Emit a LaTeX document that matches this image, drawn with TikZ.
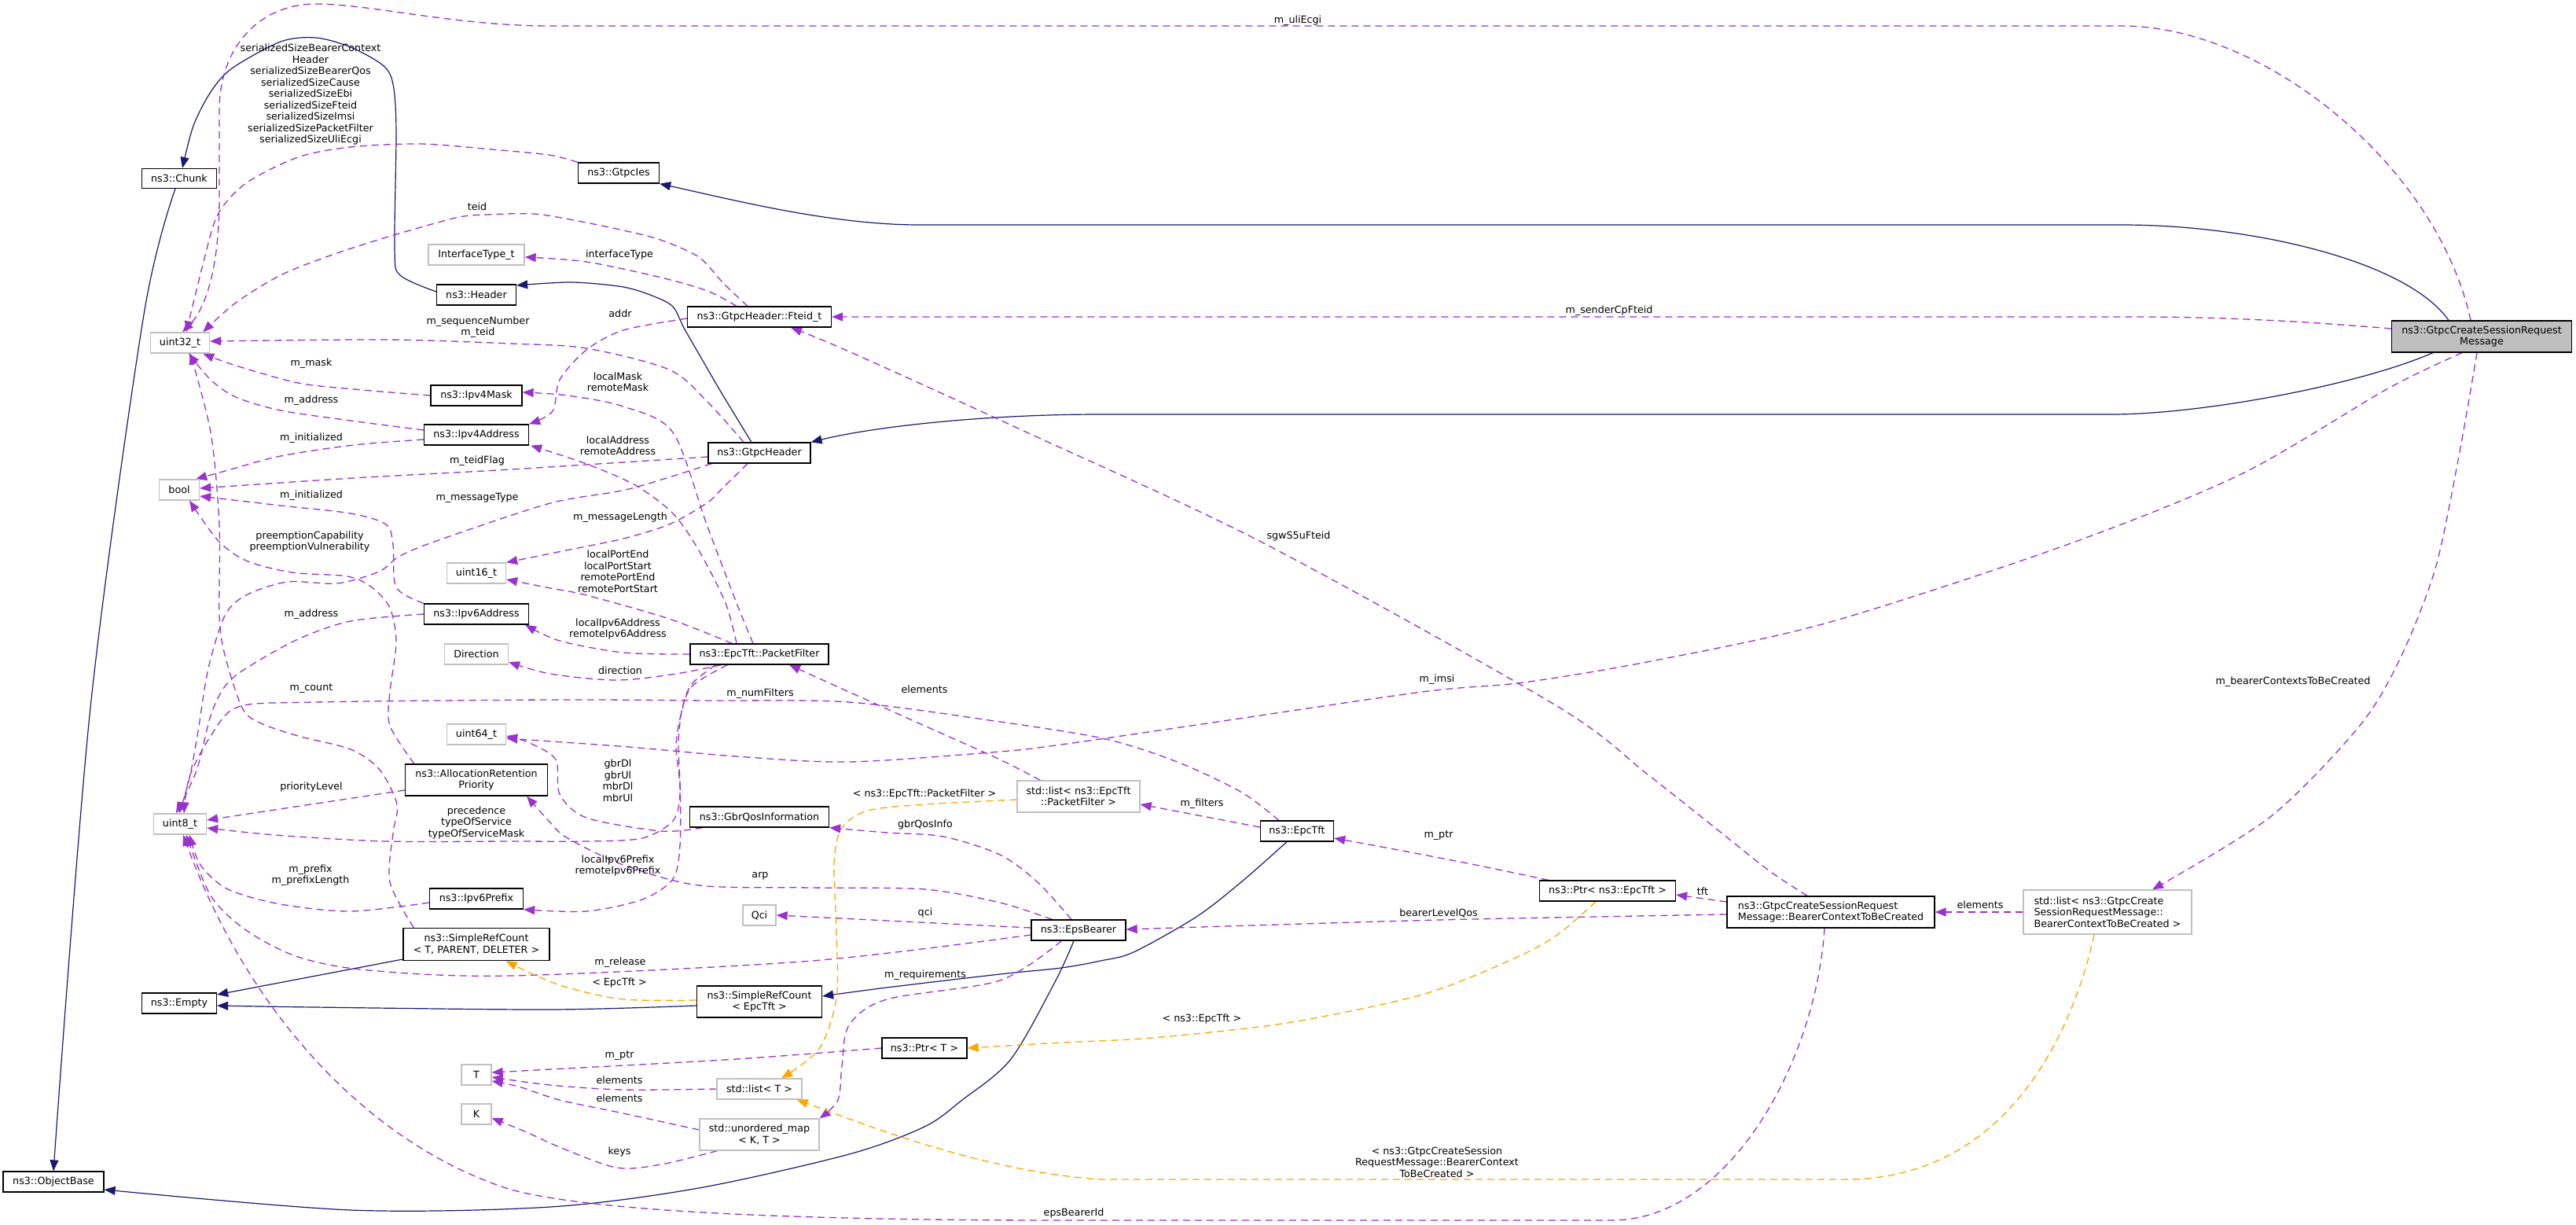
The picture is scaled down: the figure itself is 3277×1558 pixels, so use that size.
\documentclass[tikz,border=0pt]{standalone}
\usepackage{fontspec}
\setmainfont{DejaVu Sans}
\usetikzlibrary{arrows.meta}
\definecolor{inhc}{HTML}{191970}
\definecolor{usec}{HTML}{9A32CD}
\definecolor{tplc}{HTML}{FFA500}
\definecolor{extc}{HTML}{BFBFBF}
\definecolor{selc}{HTML}{BFBFBF}
\pgfdeclarelayer{bg}
\pgfdeclarelayer{edges}
\pgfsetlayers{bg,edges,main}
\begin{document}
\begin{tikzpicture}[x=1pt,y=-1pt,
  every node/.style={font=\fontsize{12.7}{14.5}\selectfont},
  cls/.style={draw=black, line width=1.3pt, fill=white, inner sep=0pt, align=center},
  ext/.style={draw=extc, line width=1.3pt, fill=white, inner sep=0pt, align=center},
  lb/.style={inner sep=0pt, align=center},
  inh/.style={draw=inhc, line width=1.2pt, line join=round, -{Triangle[length=14pt,width=11pt]}},
  use/.style={draw=usec, line width=1.3pt, line join=round, dash pattern=on 9pt off 6pt, -{Triangle[length=14pt,width=11pt]}},
  tpl/.style={draw=tplc, line width=1.3pt, line join=round, dash pattern=on 9pt off 6pt, -{Triangle[length=14pt,width=11pt]}},
]
\begin{pgfonlayer}{bg}
\fill[white] (0,0) rectangle (3277,1558);
\end{pgfonlayer}
\useasboundingbox (0,0) rectangle (3277,1558);

% ---------- nodes ----------
\node[cls, minimum width=95pt, minimum height=25pt] (chunk) at (228,227) {ns3::Chunk};
\node[ext, minimum width=75pt, minimum height=26pt] (u32) at (229,436) {uint32\_t};
\node[ext, minimum width=51pt, minimum height=26pt] (bool) at (228,623) {bool};
\node[ext, minimum width=67pt, minimum height=26pt] (u8) at (229,1048) {uint8\_t};
\node[cls, minimum width=95pt, minimum height=26pt] (empty) at (228,1276) {ns3::Empty};
\node[cls, minimum width=128pt, minimum height=26pt] (objbase) at (68,1503) {ns3::ObjectBase};
\node[ext, minimum width=122pt, minimum height=26pt] (ift) at (606,324) {InterfaceType\_t};
\node[cls, minimum width=101pt, minimum height=26pt] (header) at (606,375) {ns3::Header};
\node[cls, minimum width=116pt, minimum height=26pt] (ipv4mask) at (606,503) {ns3::Ipv4Mask};
\node[cls, minimum width=133pt, minimum height=26pt] (ipv4addr) at (606,553) {ns3::Ipv4Address};
\node[ext, minimum width=75pt, minimum height=26pt] (u16) at (606,729) {uint16\_t};
\node[cls, minimum width=133pt, minimum height=26pt] (ipv6addr) at (606,781) {ns3::Ipv6Address};
\node[ext, minimum width=81pt, minimum height=26pt] (direction) at (606,832) {Direction};
\node[ext, minimum width=75pt, minimum height=26pt] (u64) at (606,934) {uint64\_t};
\node[cls, minimum width=181pt, minimum height=40pt] (arp) at (606,992) {ns3::AllocationRetention\\Priority};
\node[cls, minimum width=119pt, minimum height=26pt] (ipv6prefix) at (606,1143) {ns3::Ipv6Prefix};
\node[cls, minimum width=186pt, minimum height=41pt] (srcT) at (606,1201) {ns3::SimpleRefCount\\< T, PARENT, DELETER >};
\node[ext, minimum width=38pt, minimum height=26pt] (T) at (606,1367) {T};
\node[ext, minimum width=38pt, minimum height=26pt] (K) at (606,1417) {K};
\node[cls, minimum width=103pt, minimum height=26pt] (gtpcies) at (787,220) {ns3::GtpcIes};
\node[cls, minimum width=183pt, minimum height=26pt] (fteid) at (966,403) {ns3::GtpcHeader::Fteid\_t};
\node[cls, minimum width=130pt, minimum height=26pt] (gtpch) at (966,576) {ns3::GtpcHeader};
\node[cls, minimum width=176pt, minimum height=26pt] (pf) at (966,832) {ns3::EpcTft::PacketFilter};
\node[cls, minimum width=177pt, minimum height=26pt] (gbr) at (966,1039) {ns3::GbrQosInformation};
\node[ext, minimum width=42pt, minimum height=26pt] (qci) at (966,1164) {Qci};
\node[cls, minimum width=159pt, minimum height=40pt] (srcE) at (966,1274) {ns3::SimpleRefCount\\< EpcTft >};
\node[ext, minimum width=108pt, minimum height=26pt] (lstT) at (966,1385) {std::list< T >};
\node[ext, minimum width=152pt, minimum height=40pt] (umap) at (966,1443) {std::unordered\_map\\< K, T >};
\node[cls, minimum width=108pt, minimum height=26pt] (ptrT) at (1176,1333) {ns3::Ptr< T >};
\node[ext, minimum width=156pt, minimum height=40pt] (lstPF) at (1372,1013) {std::list< ns3::EpcTft\\::PacketFilter >};
\node[cls, minimum width=120pt, minimum height=26pt] (eps) at (1372,1183) {ns3::EpsBearer};
\node[cls, minimum width=93pt, minimum height=26pt] (epctft) at (1650,1057) {ns3::EpcTft};
\node[cls, minimum width=173pt, minimum height=26pt] (ptrE) at (2045,1133) {ns3::Ptr< ns3::EpcTft >};
\node[cls, align=left, minimum width=264pt, minimum height=40pt] (bctbc) at (2329,1160) {ns3::GtpcCreateSessionRequest\\Message::BearerContextToBeCreated};
\node[ext, align=left, minimum width=214pt, minimum height=56pt] (lstB) at (2681,1160) {std::list< ns3::GtpcCreate\\SessionRequestMessage::\\BearerContextToBeCreated >};
\node[cls, fill=selc, minimum width=229pt, minimum height=40pt] (msg) at (3157,428) {ns3::GtpcCreateSessionRequest\\Message};

% ---------- labels ----------
\node[lb] (lUli) at (1651,26) {m\_uliEcgi};
\node[lb] (lSer) at (395,120) {serializedSizeBearerContext\\Header\\serializedSizeBearerQos\\serializedSizeCause\\serializedSizeEbi\\serializedSizeFteid\\serializedSizeImsi\\serializedSizePacketFilter\\serializedSizeUliEcgi};
\node[lb] (lTeid) at (607,263) {teid};
\node[lb] (lIft) at (788,324) {interfaceType};
\node[lb] (lAddr) at (789,399) {addr};
\node[lb] (lSeq) at (608,416) {m\_sequenceNumber\\m\_teid};
\node[lb] (lSender) at (2047,395) {m\_senderCpFteid};
\node[lb] (lMask) at (396,462) {m\_mask};
\node[lb] (lLMask) at (786,486) {localMask\\remoteMask};
\node[lb] (lAd4) at (396,509) {m\_address};
\node[lb] (lIni4) at (396,557) {m\_initialized};
\node[lb] (lLAddr) at (786,567) {localAddress\\remoteAddress};
\node[lb] (lTeidF) at (607,586) {m\_teidFlag};
\node[lb] (lIni6) at (396,630) {m\_initialized};
\node[lb] (lMsgT) at (607,633) {m\_messageType};
\node[lb] (lMsgL) at (789,658) {m\_messageLength};
\node[lb] (lPre) at (394,689) {preemptionCapability\\preemptionVulnerability};
\node[lb] (lPort) at (786,727) {localPortEnd\\localPortStart\\remotePortEnd\\remotePortStart};
\node[lb] (lAd6) at (396,781) {m\_address};
\node[lb] (lL6) at (786,800) {localIpv6Address\\remoteIpv6Address};
\node[lb] (lDir) at (789,853) {direction};
\node[lb] (lCnt) at (396,876) {m\_count};
\node[lb] (lNumF) at (967,882) {m\_numFilters};
\node[lb] (lElPF) at (1176,877) {elements};
\node[lb] (lImsi) at (1828,864) {m\_imsi};
\node[lb] (lSgw) at (1652,682) {sgwS5uFteid};
\node[lb] (lBcr) at (2917,867) {m\_bearerContextsToBeCreated};
\node[lb] (lGbr) at (786,993) {gbrDl\\gbrUl\\mbrDl\\mbrUl};
\node[lb] (lPrio) at (396,1001) {priorityLevel};
\node[lb] (lTPF) at (1176,1010) {< ns3::EpcTft::PacketFilter >};
\node[lb] (lFil) at (1529,1022) {m\_filters};
\node[lb] (lPrec) at (606,1046) {precedence\\typeOfService\\typeOfServiceMask};
\node[lb] (lGbrI) at (1177,1049) {gbrQosInfo};
\node[lb] (lPtrE) at (1830,1063) {m\_ptr};
\node[lb] (lL6P) at (786,1101) {localIpv6Prefix\\remoteIpv6Prefix};
\node[lb] (lPfx) at (395,1113) {m\_prefix\\m\_prefixLength};
\node[lb] (lArp) at (967,1114) {arp};
\node[lb] (lTft) at (2166,1134) {tft};
\node[lb] (lElB) at (2519,1151) {elements};
\node[lb] (lBlq) at (1830,1161) {bearerLevelQos};
\node[lb] (lQci) at (1177,1161) {qci};
\node[lb] (lRel) at (789,1224) {m\_release};
\node[lb] (lReq) at (1177,1240) {m\_requirements};
\node[lb] (lTE) at (788,1250) {< EpcTft >};
\node[lb] (lTNE) at (1529,1296) {< ns3::EpcTft >};
\node[lb] (lPtrT) at (788,1343) {m\_ptr};
\node[lb] (lElT) at (788,1374) {elements};
\node[lb] (lElM) at (788,1397) {elements};
\node[lb] (lKeys) at (788,1465) {keys};
\node[lb] (lTB) at (1828,1478) {< ns3::GtpcCreateSession\\RequestMessage::BearerContext\\ToBeCreated >};
\node[lb] (lEbi) at (1366,1543) {epsBearerId};

% ---------- edges ----------
\begin{pgfonlayer}{edges}
% inheritance
\draw[inh] plot[smooth] coordinates {([yshift=4pt]header.west) (509,350) (502,317) (504,167) (500,107) (487,83) (446,60) (402,48) (357,53) (295,87) (268,117) (246,160) ([xshift=4pt]chunk.north)};
\draw[inh] plot[smooth] coordinates {([xshift=-5pt]chunk.south) (183,400) (115,900) (objbase.north)};
\draw[inh] ([xshift=-42pt]msg.north) .. controls (3060,330) and (2860,286) .. (2700,286) -- (1170,286) .. controls (1060,286) and (940,256) .. (gtpcies.south east);
\draw[inh] plot[smooth] coordinates {([xshift=-10pt]gtpch.north) (918,500) (889,450) (870,417) (856,390) (832,377) (793,365) (727,359) ([yshift=12pt]header.east)};
\draw[inh] ([xshift=-62pt]msg.south) .. controls (3000,490) and (2800,527) .. (2686,527) -- (1400,527) .. controls (1250,527) and (1110,543) .. (gtpch.north east);
\draw[inh] ([yshift=-19pt]srcT.west) -- ([yshift=11pt]empty.east);
\draw[inh] plot[smooth] coordinates {([yshift=-5pt]srcE.west) (700,1284) (400,1281) ([yshift=-3pt]empty.east)};
\draw[inh] plot[smooth] coordinates {([xshift=-13pt]epctft.south) (1580,1121) (1522,1166) (1442,1211) (1400,1222) (1350,1231) (1272,1239) (1128,1256) ([yshift=7pt]srcE.east)};
\draw[inh] plot[smooth] coordinates {([xshift=-6pt]eps.south) (1343,1247) (1286,1347) (1224,1399) (1176,1433) (1080,1468) (889,1511) (700,1535) (446,1539) ([yshift=-10pt]objbase.east)};

% usage
\draw[use] ([xshift=-14pt]msg.north) .. controls (3100,210) and (2880,33) .. (2700,33) -- (700,33) .. controls (580,33) and (470,5) .. (402,5) .. controls (330,5) and (279,60) .. (279,140) -- (279,250) .. controls (279,340) and (262,392) .. ([xshift=3pt]u32.north);
\draw[use] plot[smooth] coordinates {(gtpcies.north west) (698,197) (625,190) (536,183) (446,187) (379,200) (313,233) (277,273) (259,333) ([xshift=8pt]u32.north)};
\draw[use] plot[smooth] coordinates {([xshift=-15pt]fteid.north) (920,360) (889,327) (840,305) (793,293) (730,280) (679,272) (620,273) (580,277) (491,302) (420,325) (357,350) (300,385) ([xshift=-9pt]u32.north east)};
\draw[use] plot[smooth] coordinates {([xshift=-29pt]fteid.north) (900,370) (841,353) (746,333) ([yshift=-3pt]ift.east)};
\draw[use] plot[smooth] coordinates {([yshift=-2pt]fteid.west) (793,420) (746,445) (712,483) (703,523) (ipv4addr.north east)};
\draw[use] plot[smooth] coordinates {([xshift=-20pt]gtpch.north) (899,510) (851,470) (746,443) (650,437) (491,432) ([yshift=2pt]u32.east)};
\draw[use] plot[smooth] coordinates {(ipv4mask.west) (450,495) (379,487) (300,465) ([xshift=-9pt]u32.south east)};
\draw[use] plot[smooth] coordinates {([yshift=6pt]ipv4addr.west) (446,535) (357,522) (300,505) (268,483) ([xshift=11pt]u32.south)};
\draw[use] plot[smooth] coordinates {([yshift=-6pt]ipv4addr.west) (450,566) (357,580) (290,598) ([xshift=-5pt]bool.north east)};
\draw[use] plot[smooth] coordinates {([yshift=-5pt]gtpch.west) (650,597) (450,608) ([yshift=2pt]bool.east)};
\draw[use] plot[smooth] coordinates {(ipv6addr.north west) (504,747) (500,693) (491,667) (446,653) (357,643) ([yshift=-8pt]bool.east)};
\draw[use] plot[smooth] coordinates {([xshift=12pt]arp.north west) (496,923) (496,880) (504,817) (496,773) (473,747) (442,733) (371,728) (313,713) (277,687) ([xshift=13pt]bool.south)};
\draw[use] plot[smooth] coordinates {([xshift=-15pt]gtpch.south) (920,620) (899,640) (851,667) (793,685) (720,700) (u16.north east)};
\draw[use] plot[smooth] coordinates {([xshift=5pt]gtpch.south west) (800,622) (700,640) (558,687) (509,707) (482,727) (429,742) (366,740) (313,757) (286,783) (265,850) (252,930) (241,990) ([xshift=-1pt]u8.north)};
\draw[use] plot[smooth] coordinates {(ipv6addr.west) (446,790) (379,813) (313,850) (286,873) (268,910) (250,980) ([xshift=-5pt]u8.north)};
\draw[use] plot[smooth] coordinates {([xshift=14pt]srcT.north west) (496,1122) (500,1060) (505,1023) (483,979) (446,953) (379,936) (330,919) (308,900) (286,833) (279,783) (279,667) (268,550) ([xshift=13pt]u32.south)};
\draw[use] plot[smooth] coordinates {([xshift=24pt]epctft.north west) (1580,1008) (1500,970) (1407,940) (1272,918) (1080,893) (900,891) (700,890) (400,893) (303,899) (268,936) (241,988) ([xshift=5pt]u8.north)};
\draw[use] ([yshift=-13pt]arp.west) -- ([yshift=5pt]u8.east);
\draw[use] plot[smooth] coordinates {([xshift=33pt]pf.south west) (880,870) (868,900) (863,945) (865,1010) (856,1044) (817,1066) (746,1070) (650,1070) (491,1070) (350,1062) ([yshift=-5pt]u8.east)};
\draw[use] plot[smooth] coordinates {([yshift=-5pt]ipv6prefix.west) (446,1159) (357,1150) (290,1131) (255,1100) ([xshift=12pt]u8.south)};
\draw[use] plot[smooth] coordinates {([yshift=-6pt]eps.west) (1033,1222) (650,1241) (469,1234) (379,1217) (313,1183) (268,1139) ([xshift=8pt]u8.south)};
\draw[use] ([xshift=-8pt]bctbc.south) .. controls (2310,1350) and (2200,1552) .. (2050,1552) -- (1350,1552) .. controls (1000,1552) and (750,1540) .. (650,1513) .. controls (480,1460) and (320,1300) .. ([xshift=4pt]u8.south);
\draw[use] plot[smooth] coordinates {([xshift=17pt]gbr.south west) (841,1057) (746,1040) (712,1010) (707,966) (674,945) ([yshift=-2pt]u64.east)};
\draw[use] plot[smooth] coordinates {([xshift=-25pt]msg.south) (3038,494) (2851,603) (2626,694) (2325,792) (2100,841) (1938,868) (1809,880) (1522,922) (1350,947) (1272,956) (1080,969) (937,962) (800,950) ([yshift=-5pt]u64.east)};
\draw[use] plot[smooth] coordinates {([xshift=54pt]pf.north west) (851,787) (746,757) (700,748) ([yshift=-8pt]u16.east)};
\draw[use] plot[smooth] coordinates {(pf.west) (793,830) (712,815) ([xshift=-5pt]ipv6addr.south east)};
\draw[use] plot[smooth] coordinates {([xshift=40pt]pf.south west) (860,857) (784,865) (700,857) ([yshift=-10pt]direction.east)};
\draw[use] plot[smooth] coordinates {([xshift=-8pt]pf.north) (937,767) (899,667) (856,550) (793,517) (722,503) ([yshift=4pt]ipv4mask.east)};
\draw[use] plot[smooth] coordinates {([xshift=-29pt]pf.north) (923,767) (889,700) (856,653) (808,617) (746,590) ([xshift=2pt]ipv4addr.south east)};
\draw[use] plot[smooth] coordinates {([xshift=48pt]pf.south west) (880,873) (866,910) (860,950) (865,1000) (865,1075) (856,1118) (817,1144) (746,1159) (ipv6prefix.south east)};
\draw[use] plot[smooth] coordinates {([xshift=27pt]eps.north west) (1272,1148) (1176,1131) (1033,1129) (889,1126) (793,1100) (722,1066) (698,1044) ([xshift=-27pt]arp.south east)};
\draw[use] plot[smooth] coordinates {([xshift=-9pt]eps.north) (1320,1122) (1272,1087) (1200,1064) (1128,1059) (gbr.south east)};
\draw[use] ([yshift=3pt]eps.west) -- (qci.east);
\draw[use] plot[smooth] coordinates {([xshift=39pt]eps.south west) (1272,1247) (1128,1271) (1080,1304) (1071,1356) (1066,1399) (umap.north east)};
\draw[use] plot[smooth] coordinates {(ptrT.west) (937,1347) (700,1360) ([yshift=3pt]T.east)};
\draw[use] plot[smooth] coordinates {(lstT.west) (793,1386) (700,1380) ([yshift=-3pt]T.east)};
\draw[use] plot[smooth] coordinates {([yshift=6pt]umap.west) (793,1416) (712,1399) (660,1382) ([yshift=-8pt]T.east)};
\draw[use] plot[smooth] coordinates {([xshift=23pt]umap.south west) (841,1481) (784,1485) (712,1459) (670,1440) ([yshift=-5pt]K.east)};
\draw[use] ([yshift=5pt]epctft.west) -- ([yshift=-10pt]lstPF.east);
\draw[use] plot[smooth] coordinates {([xshift=30pt]lstPF.north west) (1272,966) (1176,923) (1080,880) ([xshift=38pt]pf.south)};
\draw[use] plot[smooth] coordinates {([xshift=12pt]ptrE.north west) (1867,1098) (1752,1076) ([yshift=-9pt]epctft.east)};
\draw[use] ([yshift=13pt]bctbc.west) -- ([yshift=-5pt]ptrE.east);
\draw[use] plot[smooth] coordinates {([yshift=-3pt]bctbc.west) (1830,1170) ([yshift=1pt]eps.east)};
\draw[use] plot[smooth] coordinates {([xshift=-30pt]bctbc.north) (2250,1107) (2182,1053) (2096,985) (1979,897) (1606,690) (1300,547) (1080,447) ([xshift=40pt]fteid.south)};
\draw[use] ([yshift=10pt]msg.west) .. controls (2900,406) and (2800,403) .. (2717,403) -- (fteid.east);
\draw[use] plot[smooth] coordinates {([xshift=-6pt]msg.south) (3128,580) (3098,723) (3053,838) (3001,924) (2888,1039) ([xshift=57pt]lstB.north)};
\draw[use] (lstB.west) -- (bctbc.east);

% template instances
\draw[tpl] plot[smooth] coordinates {([yshift=-4pt]lstPF.west) (1176,1023) (1104,1031) (1071,1053) (1061,1096) (1064,1183) (1064,1269) (1042,1334) ([xshift=28pt]lstT.north)};
\draw[tpl] plot[smooth] coordinates {([xshift=-15pt]ptrE.south) (1981,1189) (1924,1220) (1809,1265) (1637,1301) (1465,1320) (1350,1326) (ptrT.east)};
\draw[tpl] plot[smooth] coordinates {([yshift=2pt]srcE.west) (793,1271) (722,1256) (680,1240) ([xshift=-56pt]srcT.south east)};
\draw[tpl] ([xshift=-17pt]lstB.south) .. controls (2640,1300) and (2560,1500) .. (2348,1500) -- (1400,1500) .. controls (1250,1490) and (1100,1430) .. ([xshift=-7pt]lstT.south east);
\end{pgfonlayer}
\end{tikzpicture}
\end{document}
